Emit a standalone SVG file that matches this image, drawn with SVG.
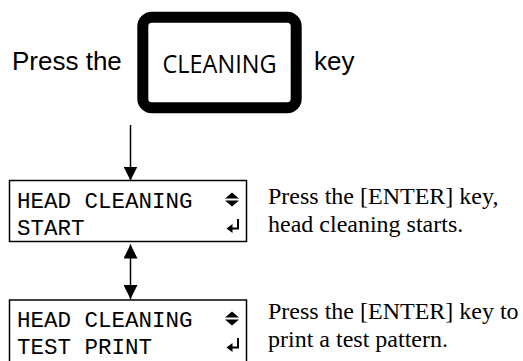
<svg xmlns="http://www.w3.org/2000/svg" width="523" height="361" viewBox="0 0 523 361">
<style>
.sans{font-family:"Liberation Sans",Arial,sans-serif;font-size:26px;fill:#000}
.key{font-family:"Open Sans","DejaVu Sans",sans-serif;font-size:25px;fill:#000}
.mono{font-family:"Liberation Mono","Courier New",monospace;font-size:22.5px;fill:#000}
.serif{font-family:"Liberation Serif","Times New Roman",serif;font-size:24px;fill:#000}
.lcd{fill:#fff;stroke:#000;stroke-width:1.5}
.line{stroke:#000;stroke-width:1.5;fill:none}
</style>
<defs>
<marker id="ah" viewBox="0 0 14 14" refX="14" refY="7" markerWidth="14" markerHeight="14" markerUnits="userSpaceOnUse" orient="auto-start-reverse">
<path d="M0,0 L14,7 L0,14 Z" fill="#000"/>
</marker>
<g id="updown">
<path d="M0,6 L7,0 L14,6 Z M0,8 L14,8 L7,14 Z" fill="#000"/>
</g>
<g id="enter">
<path d="M0,9.5 L6,5 L6,14 Z" fill="#000"/>
<path d="M5,9.5 L11.5,9.5 L11.5,0" fill="none" stroke="#000" stroke-width="2"/>
</g>
</defs>

<g id="header">
<text class="sans" x="12" y="69.5">Press the</text>
<g id="cleaning-key">
<rect x="142.8" y="17.2" width="153.4" height="90.6" rx="9" ry="9" fill="#fff" stroke="#000" stroke-width="11"/>
<text class="key" x="162.5" y="73" textLength="114" lengthAdjust="spacingAndGlyphs">CLEANING</text>
</g>
<text class="sans" x="314" y="69.5">key</text>
</g>

<g id="connectors">
<line class="line" x1="130.5" y1="125" x2="130.5" y2="180.5" marker-end="url(#ah)"/>
<line class="line" x1="130.5" y1="244.5" x2="130.5" y2="299" marker-start="url(#ah)" marker-end="url(#ah)"/>
</g>

<g id="lcd-start">
<rect class="lcd" x="9.5" y="180.5" width="237" height="61"/>
<text class="mono" x="17" y="208.3">HEAD CLEANING</text>
<text class="mono" x="17" y="235">START</text>
<use href="#updown" x="225" y="192.5"/>
<use href="#enter" x="226.5" y="219"/>
</g>
<text class="serif" x="268" y="204">Press the [ENTER] key,</text>
<text class="serif" x="268" y="231.5">head cleaning starts.</text>

<g id="lcd-test">
<rect class="lcd" x="9.5" y="300" width="237" height="70"/>
<text class="mono" x="17" y="327">HEAD CLEANING</text>
<text class="mono" x="17" y="354">TEST PRINT</text>
<use href="#updown" x="225" y="311.5"/>
<use href="#enter" x="226.5" y="338"/>
</g>
<text class="serif" x="268" y="318.5">Press the [ENTER] key to</text>
<text class="serif" x="268" y="346.5">print a test pattern.</text>
</svg>
